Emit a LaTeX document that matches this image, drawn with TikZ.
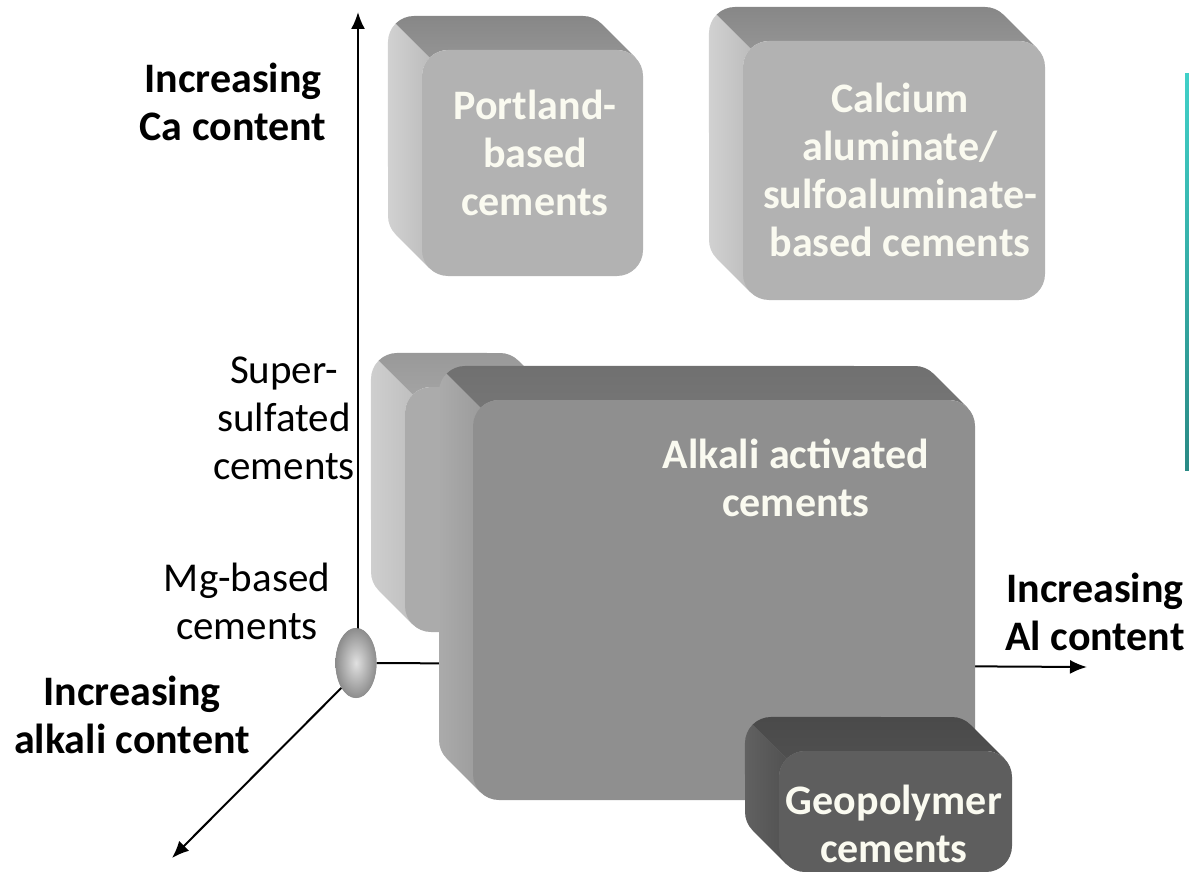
\documentclass[tikz,border=0pt]{standalone}
\usepackage{fontspec}
\setmainfont{Carlito}
\usetikzlibrary{shapes.geometric,arrows.meta}

\definecolor{cream}{RGB}{250,250,240}
\definecolor{tealtop}{RGB}{64,208,200}
\definecolor{tealbot}{RGB}{42,138,133}

\def\dep{34}
\def\rr{26}
\def\kk{7.6}

% 3D box: front face (#1,#2)-(#3,#4), front colour #5, top face shading #6, side face shading #7
\newcommand{\cementbox}[7]{%
  \pgfmathsetmacro{\ax}{#1-\dep}
  \pgfmathsetmacro{\ay}{#2-\dep}
  \pgfmathsetmacro{\bx}{#3-\dep}
  \pgfmathsetmacro{\by}{#4-\dep}
  \shade[#7] (\ax+\kk,\ay+\kk) arc[start angle=225,end angle=180,radius=\rr] -- (\ax,\by-\rr) arc[start angle=180,end angle=135,radius=\rr] -- (#1+\kk,#4-\kk) -- (#1,#4-\rr) -- (#1,#2+\rr) arc[start angle=180,end angle=225,radius=\rr] -- cycle;
  \shade[#6] (\ax+\kk,\ay+\kk) arc[start angle=225,end angle=270,radius=\rr] -- (\bx-\rr,\ay) arc[start angle=270,end angle=315,radius=\rr] -- (#3-\kk,#2+\kk) arc[start angle=315,end angle=270,radius=\rr] -- (#1+\rr,#2) arc[start angle=270,end angle=225,radius=\rr] -- cycle;
  \fill[#5,rounded corners=\rr pt] (#1,#2) rectangle (#3,#4);
}

\begin{document}
\begin{tikzpicture}[x=1pt,y=-1pt,
  boxtext/.style={font=\bfseries\fontsize{42}{48}\selectfont,text=cream,align=center},
  axislabel/.style={font=\bfseries\fontsize{42}{48}\selectfont,align=center},
  sidelabel/.style={font=\fontsize{41}{48}\selectfont,align=center},
  knob/.style={ellipse,minimum width=41pt,minimum height=70pt,inner sep=0pt,
    shading=radial,inner color=black!12,outer color=black!45},
  axis/.style={line width=2pt,-{Latex[length=17pt,width=14pt]}}]
  \useasboundingbox (0,0) rectangle (1189,872);

  % axes
  \node[knob] (origin) at (356,663) {};
  \coordinate (caend) at (358,12);
  \coordinate (alend) at (1087,667);
  \coordinate (alkend) at (172,858);
  \draw[axis] (origin.east) -- (alend);
  \draw[axis] (358,629) -- (caend);
  \draw[axis] (origin.south west) -- (alkend);

  % boxes
  \cementbox{422}{50}{643}{276}{black!30}{top color=black!47,bottom color=black!42}{left color=black!18,right color=black!26}
  \cementbox{743}{41}{1045}{300}{black!30}{top color=black!47,bottom color=black!42}{left color=black!18,right color=black!26}
  \cementbox{405}{387}{560}{632}{black!33}{top color=black!40,bottom color=black!36}{left color=black!19,right color=black!25}
  \cementbox{473}{400}{975}{800}{black!44}{top color=black!56,bottom color=black!54}{left color=black!33,right color=black!39}
  \cementbox{779}{751}{1012}{872}{black!63}{top color=black!71,bottom color=black!69}{left color=black!62,right color=black!68}
  \node[knob] at (origin) {};

  % texts
  \node[boxtext] (portland) at (535,153) {Portland-\\based\\cements};
  \node[boxtext] (calcium) at (900,170) {Calcium\\aluminate/\\sulfoaluminate-\\based cements};
  \node[boxtext] (alkali) at (796,478) {Alkali activated\\cements};
  \node[boxtext] (geo) at (894,824) {Geopolymer\\cements};
  \node[sidelabel] (super) at (284,418) {Super-\\sulfated\\cements};
  \node[sidelabel] (mg) at (247,601) {Mg-based\\cements};
  \node[axislabel] (ca) at (233,102) {Increasing\\Ca content};
  \node[axislabel] (al) at (1095,612) {Increasing\\Al content};
  \node[axislabel] (alk) at (132,715) {Increasing\\alkali content};

  % side bar
  \shade[top color=tealtop,bottom color=tealbot] (1185,74) rectangle (1189,470);
\end{tikzpicture}
\end{document}
